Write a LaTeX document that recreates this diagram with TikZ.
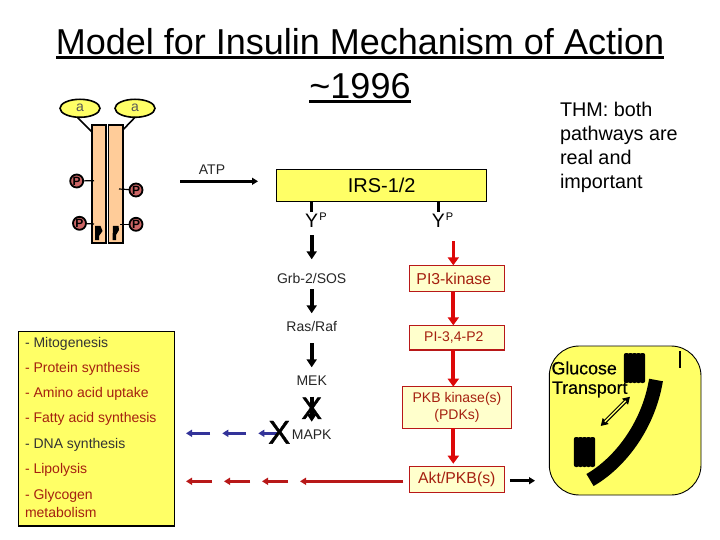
\documentclass[tikz,border=0pt]{standalone}
\usepackage{fontspec}
\setmainfont{Liberation Sans}
\newfontfamily\heavy[FakeBold=1.2]{Liberation Sans}
\newfontfamily\semi[FakeBold=0.4]{Liberation Sans}
\usetikzlibrary{arrows.meta,calc,shapes.geometric}
\definecolor{yel}{HTML}{FFFF66}
\definecolor{pale}{HTML}{FFFFCC}
\definecolor{bar}{HTML}{FFCC99}
\definecolor{pink}{HTML}{CC6666}
\definecolor{redd}{HTML}{DD0808}
\definecolor{dred}{HTML}{B81818}
\definecolor{blu}{HTML}{333399}
\definecolor{txtred}{HTML}{A52010}
\definecolor{txtgray}{HTML}{333333}
\tikzset{
  every node/.style={inner sep=0pt,outer sep=0pt},
  lbl/.style={font=\fontsize{14}{16}\selectfont,text=black!85},
  blk/.style={draw=black,line width=3.6pt,-{Triangle[length=8pt,width=10pt]}},
  redar/.style={draw=redd,line width=3.8pt,-{Triangle[length=8pt,width=11pt]}},
  fb/.style={line width=2.8pt,-{Triangle[length=6pt,width=7pt]}},
  redbox/.style={draw=dred,line width=1.1pt,fill=pale,text=txtred,font=\fontsize{15.8}{18}\selectfont,align=center,anchor=north west},
  pcirc/.style={circle,draw=black,line width=1.8pt,fill=pink,minimum size=13pt,font=\fontsize{12}{12}\selectfont\bfseries},
  ell/.style={ellipse,draw=black,line width=1.6pt,fill=yel,minimum width=40pt,minimum height=18pt,font=\fontsize{14}{14}\selectfont,text=black!65},
  barbox/.style={draw=black,line width=1.6pt,fill=bar,anchor=north west},
  item/.style={anchor=west,font=\fontsize{14}{16}\selectfont},
}
\begin{document}
\begin{tikzpicture}[x=1pt,y=-1pt]
\useasboundingbox (0,0) rectangle (720,540);
% title
\node (t1) at (360,42) {\fontsize{36}{38}\selectfont Model for Insulin Mechanism of Action};
\node (t2) at (360,86) {\fontsize{36}{38}\selectfont \string~1996};
\draw[line width=2.2pt] (56,57.5) -- (664,57.5);
\draw[line width=2.2pt] (309,101.5) -- (411,101.5);
% THM
\node[anchor=north west,align=left,font=\fontsize{19.8}{24}\selectfont] (thm) at (560,102) {THM: both\\pathways are\\real and\\important};
% receptor
\node[barbox,minimum width=14pt,minimum height=118pt] (b1) at (91.7,125) {};
\node[barbox,minimum width=14.5pt,minimum height=118pt] (b2) at (108.3,125) {};
\node[ell] (a1) at (80,108.3) {a};
\node[ell] (a2) at (135,108.3) {a};
\coordinate (c1) at (91.7,131.7);
\coordinate (c2) at (122.8,130);
\draw[line width=1.6pt] (77.3,117.3) -- (c1);
\draw[line width=1.6pt] (135,117.3) -- (c2);
\coordinate (q1) at (94,180.7);
\coordinate (q2) at (119,189);
\coordinate (q3) at (94,224);
\coordinate (q4) at (120,224.3);
\node[pcirc] (p1) at (76.7,181) {P};
\node[pcirc] (p2) at (136,190) {P};
\node[pcirc] (p3) at (79.5,223.3) {P};
\node[pcirc] (p4) at (136,224.3) {P};
\draw[line width=1.2pt] (p1) -- (q1);
\draw[line width=1.2pt] (p2) -- (q2);
\draw[line width=1.2pt] (p3) -- (q3);
\draw[line width=1.2pt] (p4) -- (q4);
\fill (95,226) -- (100.5,226) -- (102.5,231) -- (99,236) -- (99,240) -- (95,240) -- cycle;
\fill (118.5,226) -- (113,226) -- (112.5,240) -- (116,240) -- (116,235) -- (119,230) -- cycle;
% ATP
\node[lbl] (atp) at (212,170) {ATP};
\coordinate (atpL) at (180,181.3);
\coordinate (atpR) at (258,181.3);
\draw[line width=2.8pt,-{Triangle[length=6pt,width=7pt]}] (atpL) -- (atpR);
% IRS
\node[draw=black,line width=1.3pt,fill=yel,anchor=north west,minimum width=210pt,minimum height=32pt,font=\fontsize{20}{22}\selectfont] (irs) at (276.7,169.3) {IRS-1/2};
\node[font=\fontsize{19.5}{22}\selectfont] (y1) at (311.7,220.5) {Y};
\node[font=\fontsize{19.5}{22}\selectfont] (y2) at (438.3,220.5) {Y};
\node[font=\fontsize{11}{12}\selectfont] (s1) at (323,217) {P};
\node[font=\fontsize{11}{12}\selectfont] (s2) at (449.5,217) {P};
\draw[line width=3.2pt] (y1 |- irs.south) -- ($(y1)+(0,-8)$);
\draw[line width=3.2pt] (y2 |- irs.south) -- ($(y2)+(0,-8)$);
% left cascade
\node[lbl] (grb) at (311.7,278.3) {Grb-2/SOS};
\node[lbl] (ras) at (311.7,326.7) {Ras/Raf};
\node[lbl] (mek) at (311.7,380.3) {MEK};
\node[lbl] (mapk) at (311.7,434.3) {MAPK};
\draw[blk] ($(y1)+(0,14.5)$) -- ($(grb)+(0,-19)$);
\draw[blk] ($(grb)+(0,11)$) -- ($(ras)+(0,-13.4)$);
\draw[blk] ($(ras)+(0,16.3)$) -- ($(mek)+(0,-13)$);
\draw[blk] ($(mek)+(0,16.4)$) -- ($(mapk)+(0,-12.6)$);
\node (x1) at (311.7,408.3) {\heavy\fontsize{31}{31}\selectfont X};
% right cascade
\node[redbox,minimum width=95pt,minimum height=26.4pt] (pi3) at (409.3,265.3) {PI3-kinase\hspace*{6pt}};
\node[redbox,minimum width=95pt,minimum height=24.7pt,font=\fontsize{14}{16}\selectfont] (pip) at (409.3,325.3) {PI-3,4-P2\hspace*{6pt}};
\node[redbox,minimum width=109.4pt,minimum height=41.6pt,font=\fontsize{14}{17}\selectfont] (pkb) at (402.3,386.7) {PKB kinase(s)\\(PDKs)};
\node[redbox,minimum width=95pt,minimum height=25.6pt] (akt) at (409.3,466.7) {Akt/PKB(s)};
\coordinate (r0) at (453.3,241);
\draw[redar,line width=3pt] (r0) -- (r0 |- pi3.north);
\draw[redar] (r0 |- pi3.south) -- (r0 |- pip.north);
\draw[redar] (r0 |- pip.south) -- (r0 |- pkb.north);
\draw[redar] (r0 |- pkb.south) -- ($(r0 |- akt.north)+(0,-3)$);
% left box
\node[draw=black,line width=1.3pt,fill=yel,anchor=north west,minimum width=156pt,minimum height=194.3pt] (list) at (18.3,331.7) {};
\node[item,text=txtgray] (l1) at (25,344.3) {- Mitogenesis};
\node[item,text=txtred] (l2) at (25,369.3) {- Protein synthesis};
\node[item,text=txtred] (l3) at (25,394.3) {- Amino acid uptake};
\node[item,text=txtred] (l4) at (25,419.3) {- Fatty acid synthesis};
\node[item,text=txtgray] (l5) at (25,445) {- DNA synthesis};
\node[item,text=txtred] (l6) at (25,470) {- Lipolysis};
\node[item,text=txtred] (l7) at (25,495.7) {- Glycogen};
\node[item,text=txtred] (l8) at (25,512.3) {metabolism};
% feedback arrows
\coordinate (bl1) at (210,433.3); \coordinate (bl2) at (186,433.3);
\coordinate (bl3) at (246,433.3); \coordinate (bl4) at (222.3,433.3);
\coordinate (bl5) at (277,433.3); \coordinate (bl6) at (258.3,433.3);
\draw[fb,draw=blu] (bl1) -- (bl2);
\draw[fb,draw=blu] (bl3) -- (bl4);
\draw[fb,draw=blu] (bl5) -- (bl6);
\coordinate (rd1) at (212,481.3); \coordinate (rd2) at (186,481.3);
\coordinate (rd3) at (250,481.3); \coordinate (rd4) at (224,481.3);
\coordinate (rd5) at (288,481.3); \coordinate (rd6) at (262,481.3);
\coordinate (rd7) at (300,481.3);
\draw[fb,draw=dred] (rd1) -- (rd2);
\draw[fb,draw=dred] (rd3) -- (rd4);
\draw[fb,draw=dred] (rd5) -- (rd6);
\draw[fb,draw=dred] (akt.west |- rd7) ++(-6,0) -- (rd7);
\node (x2) at (279.3,432.3) {\heavy\fontsize{33}{33}\selectfont X};
% glucose
\node[draw=black,line width=0.9pt,fill=yel,rounded corners=30pt,anchor=north west,minimum width=151.7pt,minimum height=149pt] (gbox) at (549.3,346) {};
\coordinate (gb) at (535,480.7);
\draw[line width=3pt,-{Triangle[length=6pt,width=7pt]}] (akt.east |- gb) ++(5.5,0) -- (gb);
\draw[line width=1.6pt] (680,351) -- (680,368);
\draw[line width=14pt,black] (590,480) .. controls (618,464) and (648,428) .. (656,380);
\foreach \xx in {576.5,580.5,584.5,588.5,592.5} \fill[rounded corners=2pt] (\xx-2.6,437) rectangle (\xx+2.6,467);
\foreach \xx in {626.5,630.5,634.5,638.5,642.5} \fill[rounded corners=2pt] (\xx-2.6,353) rectangle (\xx+2.6,383);
\node[anchor=west,font=\fontsize{17.8}{18}\selectfont] (gl1) at (551.5,368) {\semi Glucose};
\node[anchor=west,font=\fontsize{17.8}{18}\selectfont] (gl2) at (552,389.5) {\semi Transport};
\coordinate (d1) at (600.7,426); \coordinate (d2) at (630,396.7);
\draw[line width=3.6pt,{Triangle[length=7pt,width=8pt]}-{Triangle[length=7pt,width=8pt]}] (d1) -- (d2);
\draw[line width=1.4pt,yel,shorten >=6pt,shorten <=6pt] (d1) -- (d2);
\end{tikzpicture}
\end{document}
